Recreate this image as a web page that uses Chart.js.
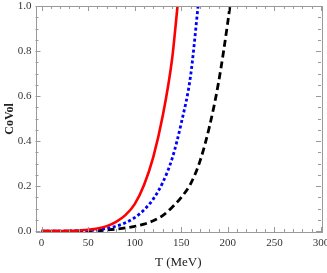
<!DOCTYPE html>
<html>
<head>
<meta charset="utf-8">
<script src="https://cdn.jsdelivr.net/npm/chart.js@4"></script>
<style>
  html, body { margin: 0; padding: 0; background: #ffffff; }
  #wrap { width: 327px; height: 273px; position: relative; }
</style>
</head>
<body>
<div id="wrap"><canvas id="coVolChart" width="327" height="273"></canvas></div>
<script>
// Daten
const tRed = [0, 10, 20, 30, 40, 50, 60, 70, 80, 90, 100, 110, 120, 130, 140, 146, 150];
const coVolRed = [0, 0, 0.0005, 0.001, 0.003, 0.006, 0.011, 0.022, 0.041, 0.071, 0.12, 0.205, 0.33, 0.51, 0.76, 1.0, 1.16];

const tBlue = [0, 10, 20, 30, 40, 50, 60, 70, 80, 90, 100, 110, 120, 130, 140, 150, 160, 168, 172];
const coVolBlue = [0, 0, 0, 0.0005, 0.001, 0.003, 0.006, 0.012, 0.022, 0.037, 0.06, 0.094, 0.143, 0.215, 0.32, 0.48, 0.69, 1.0, 1.17];

const tBlack = [0, 20, 40, 60, 70, 80, 90, 100, 110, 120, 130, 140, 150, 160, 170, 180, 190, 200, 206];
const coVolBlack = [0, 0, 0, 0.002, 0.005, 0.009, 0.014, 0.021, 0.031, 0.046, 0.069, 0.105, 0.15, 0.21, 0.31, 0.46, 0.66, 0.93, 1.12];

const xTicks = [0, 50, 100, 150, 200, 250, 300];
const yTicks = [0.0, 0.2, 0.4, 0.6, 0.8, 1.0];

const toPoints = (xs, ys) => xs.map((x, i) => ({x: x, y: ys[i]}));

const frameColor = '#9a9a9a';

// Rahmen und nach innen zeigende Ticks
const frameTicks = {
  id: 'frameTicks',
  afterDraw(chart) {
    const ctx = chart.ctx;
    const a = chart.chartArea;
    const xs = chart.scales.x, ys = chart.scales.y;
    ctx.save();
    ctx.strokeStyle = frameColor;
    ctx.lineWidth = 1;
    ctx.strokeRect(Math.round(a.left) + 0.5, Math.round(a.top) + 0.5,
                   Math.round(a.right - a.left), Math.round(a.bottom - a.top));
    ctx.beginPath();
    for (let v = 0; v <= 300; v += 10) {
      const px = Math.round(xs.getPixelForValue(v)) + 0.5;
      const len = (v % 50 === 0) ? 5 : 3;
      ctx.moveTo(px, a.bottom); ctx.lineTo(px, a.bottom - len);
      ctx.moveTo(px, a.top); ctx.lineTo(px, a.top + len);
    }
    for (let k = 0; k <= 20; k++) {
      const v = k * 0.05;
      const py = Math.round(ys.getPixelForValue(v)) + 0.5;
      const len = (k % 4 === 0) ? 5 : 3;
      ctx.moveTo(a.left, py); ctx.lineTo(a.left + len, py);
      ctx.moveTo(a.right, py); ctx.lineTo(a.right - len, py);
    }
    ctx.stroke();
    ctx.restore();
  }
};

const serif = 'Liberation Serif';

const ctx = document.getElementById('coVolChart').getContext('2d');
new Chart(ctx, {
  type: 'line',
  data: {
    datasets: [{
      data: toPoints(tRed, coVolRed),
      borderColor: '#ff0000',
      borderWidth: 2.6,
      cubicInterpolationMode: 'monotone',
      pointRadius: 0
    }, {
      data: toPoints(tBlue, coVolBlue),
      borderColor: '#0000ff',
      borderWidth: 2.8,
      borderDash: [3, 2.5],
      cubicInterpolationMode: 'monotone',
      pointRadius: 0
    }, {
      data: toPoints(tBlack, coVolBlack),
      borderColor: '#000000',
      borderWidth: 2.8,
      borderDash: [7, 4],
      cubicInterpolationMode: 'monotone',
      pointRadius: 0
    }]
  },
  options: {
    responsive: false,
    animation: false,
    parsing: false,
    layout: { padding: { top: 6, right: 6, left: 0, bottom: 0 } },
    plugins: { legend: { display: false }, tooltip: { enabled: false } },
    scales: {
      x: {
        type: 'linear',
        min: -6.5,
        max: 300,
        afterBuildTicks: (s) => { s.ticks = xTicks.map(v => ({value: v})); },
        afterFit: (s) => { s.height = 41; s.paddingLeft = 0; s.paddingRight = 0; },
        grid: { display: false, drawTicks: false },
        border: { display: false },
        ticks: { color: '#333333', padding: 5, font: { family: serif, size: 11 }, maxRotation: 0 },
        title: { display: true, text: 'T (MeV)', color: '#222222', padding: { top: 0, bottom: 3 },
                 font: { family: serif, size: 13 } }
      },
      y: {
        type: 'linear',
        min: -0.004,
        max: 1.0,
        afterBuildTicks: (s) => { s.ticks = yTicks.map(v => ({value: v})); },
        afterFit: (s) => { s.width = 35.5; s.paddingTop = 0; s.paddingBottom = 0; },
        grid: { display: false, drawTicks: false },
        border: { display: false },
        ticks: { color: '#333333', padding: 4, font: { family: serif, size: 11 },
                 callback: (v) => v.toFixed(1) },
        title: { display: true, text: 'CoVol', color: '#222222', padding: { top: 3, bottom: 2 },
                 font: { family: serif, size: 12, weight: 'bold' } }
      }
    }
  },
  plugins: [frameTicks]
});
</script>
</body>
</html>
